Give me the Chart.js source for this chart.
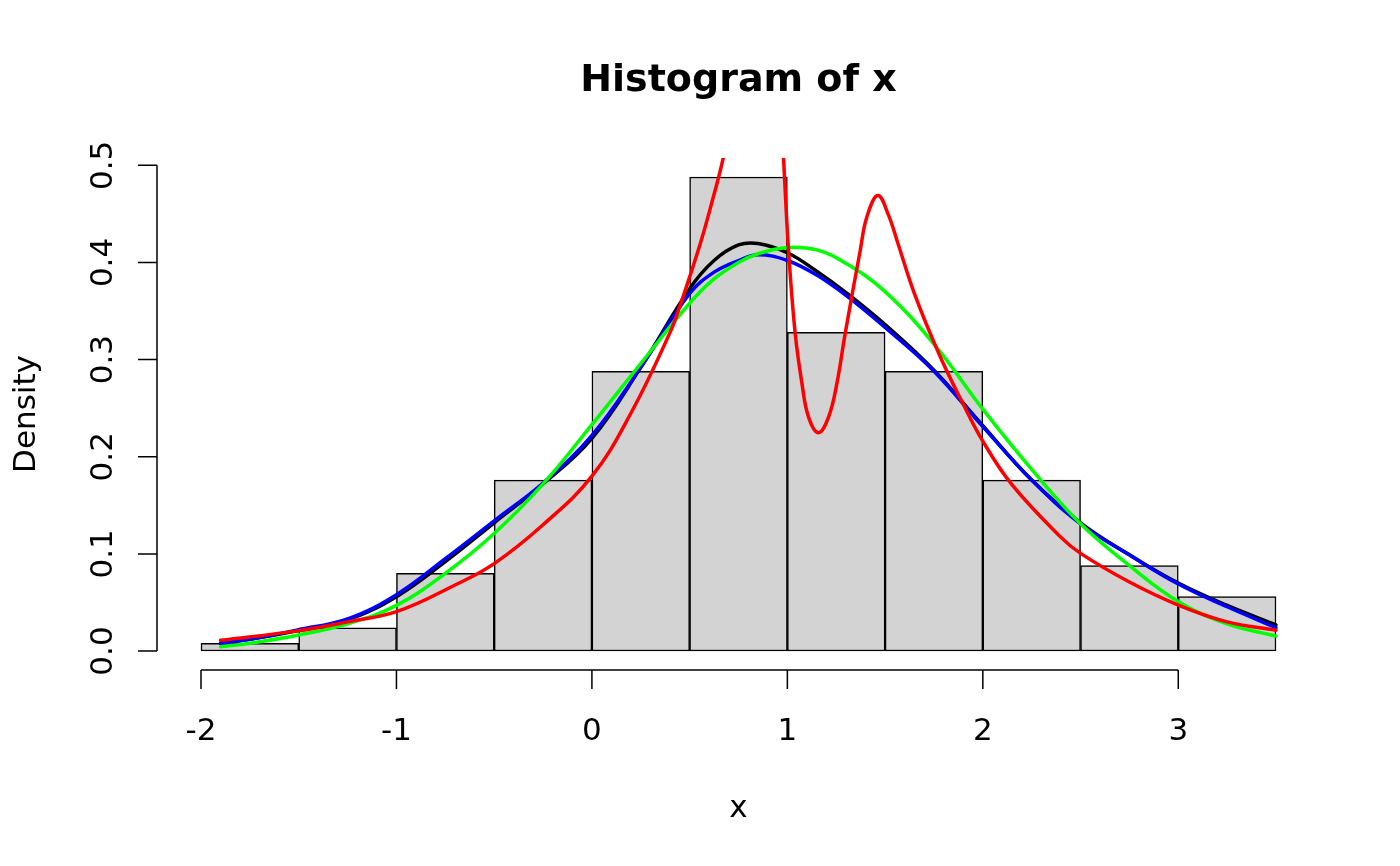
<!DOCTYPE html>
<html>
<head>
<meta charset="utf-8">
<title>Histogram of x</title>
<script src="https://cdn.jsdelivr.net/npm/chart.js@4.4.1/dist/chart.umd.min.js"></script>
<style>
    html, body { margin: 0; padding: 0; background: #ffffff; overflow: hidden; }
    #wrap { width: 1400px; height: 866px; position: relative; }
</style>
</head>
<body>
<div id="wrap"><canvas id="histChart"></canvas></div>
<script>
// Histogram of x with four density estimates on top

// histogram bins (edges) and densities
const breaks = [-2, -1.5, -1, -0.5, 0, 0.5, 1, 1.5, 2, 2.5, 3, 3.5];
const density = [0.008, 0.024, 0.08, 0.176, 0.288, 0.488, 0.328, 0.288, 0.176, 0.088, 0.056];

// smooth curves
const curveX = [-1.9, -1.75, -1.5, -1.25, -1.0, -0.75, -0.5, -0.25, 0.0, 0.25, 0.5, 0.625, 0.75, 0.85, 1.0, 1.15, 1.3, 1.5, 1.75, 2.0, 2.25, 2.5, 2.75, 3.0, 3.25, 3.5];
const blackY = [0.008, 0.012, 0.021, 0.032, 0.056, 0.092, 0.132, 0.172, 0.219, 0.292, 0.373, 0.402, 0.418, 0.4195, 0.410, 0.391, 0.369, 0.336, 0.289, 0.232, 0.176, 0.132, 0.099, 0.070, 0.047, 0.027];
const blueY = [0.008, 0.012, 0.022, 0.033, 0.058, 0.095, 0.134, 0.173, 0.222, 0.292, 0.368, 0.390, 0.402, 0.408, 0.402, 0.387, 0.366, 0.333, 0.288, 0.231, 0.176, 0.131, 0.099, 0.069, 0.0456, 0.024];
const greenY = [0.0044, 0.008, 0.0165, 0.028, 0.047, 0.080, 0.121, 0.172, 0.233, 0.296, 0.358, 0.383, 0.400, 0.409, 0.4155, 0.413, 0.399, 0.370, 0.316, 0.249, 0.187, 0.131, 0.088, 0.051, 0.028, 0.0154];

// the wiggly red one needs more points
const redX = [-1.9, -1.5, -1.25, -1.0, -0.7, -0.5, -0.25, 0.0, 0.2, 0.4, 0.45, 0.5, 0.56, 0.614, 0.673, 0.73, 0.8, 0.87, 0.93, 0.96, 0.98, 1.006, 1.04, 1.075, 1.108, 1.159, 1.211, 1.253, 1.296, 1.373, 1.407, 1.463, 1.517, 1.565, 1.65, 1.78, 1.9, 2.0, 2.15, 2.4, 2.5, 2.75, 3.0, 3.25, 3.5];
const redY = [0.011, 0.021, 0.030, 0.0405, 0.068, 0.090, 0.130, 0.180, 0.245, 0.328, 0.355, 0.385, 0.423, 0.462, 0.5085, 0.57, 0.64, 0.68, 0.64, 0.58, 0.5085, 0.4126, 0.327, 0.275, 0.241, 0.2246, 0.241, 0.275, 0.327, 0.4126, 0.447, 0.469, 0.449, 0.420, 0.368, 0.304, 0.254, 0.216, 0.171, 0.117, 0.1005, 0.071, 0.0473, 0.030, 0.0215];

// axis ticks
const xTicks = [-2, -1, 0, 1, 2, 3];
const yTicks = [0, 0.1, 0.2, 0.3, 0.4, 0.5];
const yTickLabels = ['0.0', '0.1', '0.2', '0.3', '0.4', '0.5'];

const FONT = '"DejaVu Sans", "Liberation Sans", sans-serif';

document.addEventListener('DOMContentLoaded', () => {
    drawChart();
});

function toPoints(xs, ys) {
    return xs.map((x, i) => ({ x: x, y: ys[i] }));
}

function curve(label, xs, ys, color, order) {
    return {
        type: 'line',
        label: label,
        data: toPoints(xs, ys),
        borderColor: color,
        borderWidth: 3.5,
        pointRadius: 0,
        fill: false,
        tension: 0.4,
        borderCapStyle: 'round',
        borderJoinStyle: 'round',
        clip: 0,
        order: order
    };
}

// R style axes, title and labels
const baseAxesPlugin = {
    id: 'baseAxes',
    afterDraw(chart) {
        const ctx = chart.ctx;
        const xs = chart.scales.x;
        const ys = chart.scales.y;
        const area = chart.chartArea;
        ctx.save();
        ctx.strokeStyle = '#000000';
        ctx.fillStyle = '#000000';
        ctx.lineWidth = 1.5;

        // x axis
        const axisY = area.bottom;
        ctx.beginPath();
        ctx.moveTo(xs.getPixelForValue(xTicks[0]), axisY);
        ctx.lineTo(xs.getPixelForValue(xTicks[xTicks.length - 1]), axisY);
        xTicks.forEach(t => {
            const px = xs.getPixelForValue(t);
            ctx.moveTo(px, axisY);
            ctx.lineTo(px, axisY + 19);
        });
        ctx.stroke();

        ctx.font = '31px ' + FONT;
        ctx.textAlign = 'center';
        ctx.textBaseline = 'alphabetic';
        xTicks.forEach(t => {
            ctx.fillText(String(t), xs.getPixelForValue(t), axisY + 70);
        });

        // y axis
        const axisX = area.left - 1;
        ctx.beginPath();
        ctx.moveTo(axisX, ys.getPixelForValue(yTicks[0]));
        ctx.lineTo(axisX, ys.getPixelForValue(yTicks[yTicks.length - 1]));
        yTicks.forEach(t => {
            const py = ys.getPixelForValue(t);
            ctx.moveTo(axisX, py);
            ctx.lineTo(axisX - 19, py);
        });
        ctx.stroke();

        yTicks.forEach((t, i) => {
            ctx.save();
            ctx.translate(axisX - 45.5, ys.getPixelForValue(t));
            ctx.rotate(-Math.PI / 2);
            ctx.fillText(yTickLabels[i], 0, 0);
            ctx.restore();
        });

        // axis titles
        const midX = (area.left + area.right) / 2;
        const midY = (area.top + area.bottom) / 2;
        ctx.fillText('x', midX, 817);
        ctx.save();
        ctx.translate(34.5, midY);
        ctx.rotate(-Math.PI / 2);
        ctx.fillText('Density', 0, 0);
        ctx.restore();

        // main title
        ctx.font = 'bold 38px ' + FONT;
        ctx.fillText('Histogram of x', midX, 91);
        ctx.restore();
    }
};

function drawChart() {
    const ctx = document.getElementById('histChart');

    // bars sit at the bin midpoints, one bin wide
    const bars = density.map((d, i) => ({ x: (breaks[i] + breaks[i + 1]) / 2, y: d }));

    new Chart(ctx, {
        type: 'bar',
        data: {
            datasets: [
                {
                    type: 'bar',
                    label: 'x',
                    data: bars,
                    backgroundColor: '#d3d3d3',
                    borderColor: '#000000',
                    borderWidth: 1.5,
                    borderSkipped: false,
                    barPercentage: 1,
                    categoryPercentage: 1,
                    order: 10
                },
                curve('black', curveX, blackY, '#000000', 4),
                curve('blue', curveX, blueY, '#0000ff', 3),
                curve('green', curveX, greenY, '#00ff00', 2),
                curve('red', redX, redY, '#ff0000', 1)
            ]
        },
        options: {
            responsive: true,
            maintainAspectRatio: false,
            animation: false,
            devicePixelRatio: 1,
            layout: {
                padding: { left: 158, right: 81, top: 158, bottom: 196 }
            },
            plugins: {
                legend: { display: false },
                tooltip: { enabled: false },
                title: { display: false }
            },
            scales: {
                x: {
                    type: 'linear',
                    min: -2.22,
                    max: 3.72,
                    offset: false,
                    display: false
                },
                y: {
                    type: 'linear',
                    min: -0.01952,
                    max: 0.50752,
                    display: false
                }
            }
        },
        plugins: [baseAxesPlugin]
    });
}
</script>
</body>
</html>
